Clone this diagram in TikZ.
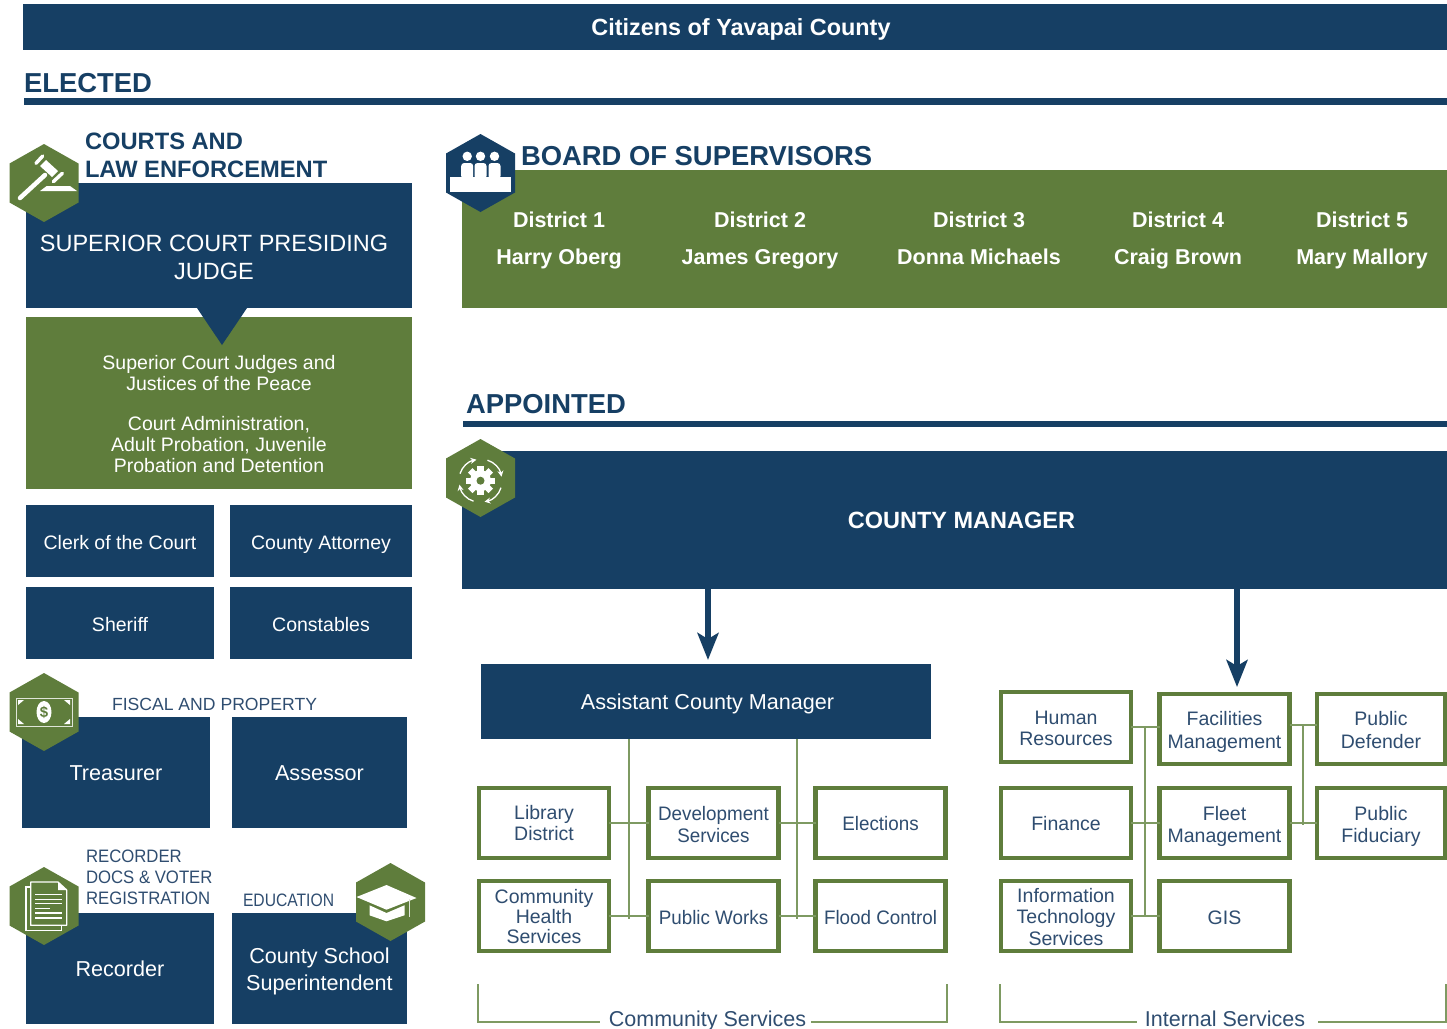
\documentclass[tikz,border=0pt]{standalone}
\usepackage{fontspec}
\setmainfont{Liberation Sans}
\newfontface\narrowa[FakeStretch=0.965]{Liberation Sans}
\newfontface\narrowb[FakeStretch=0.93]{Liberation Sans}
\newfontface\narrowc[FakeStretch=0.87]{Liberation Sans}
\usetikzlibrary{arrows.meta}
\definecolor{navy}{HTML}{163F64}
\definecolor{leaf}{HTML}{5F7D3C}
\definecolor{twig}{HTML}{7E9A62}
\definecolor{slate}{HTML}{2F4D70}
\newcommand{\sized}[2]{\fontsize{#1}{#2}\selectfont}

\begin{document}
\begin{tikzpicture}[%
    x=1pt,y=-1pt,%
    every node/.style={inner sep=0pt,outer sep=0pt},%
    drop/.style={text height=#1pt,text depth=0pt},%
    navybox/.style={fill=navy,text=white,align=center},%
    leafbox/.style={fill=leaf,text=white,align=center},%
    unitbox/.style={draw=leaf,fill=white,line width=4.5pt,text=slate,align=center,%
      minimum width=130pt,minimum height=70pt,font=\sized{19.5}{20.5}},%
    conn/.style={draw=twig,line width=2.6pt},%
    rule/.style={draw=navy,line width=7pt},%
    flow/.style={draw=navy,line width=6pt,-{Stealth[width=21pt,length=27pt,inset=6pt]}},%
    heading/.style={text=navy,anchor=west,font=\bfseries\sized{27.4}{28}},%
    district/.style={text=white,align=center,drop=53,font=\bfseries\sized{21.5}{37}},%
    hexa/.pic={%
      \fill[pic actions] (0,-39) -- (34.5,-19.5) -- (34.5,19.5) -- (0,39)
      -- (-34.5,19.5) -- (-34.5,-19.5) -- cycle;%
    }%
  ]
  \useasboundingbox (0,0) rectangle (1447,1028);

  %
  % Positions
  %
  \pgfmathsetmacro{\xla}{120};%
  \pgfmathsetmacro{\xlb}{321};%
  \pgfmathsetmacro{\xca}{544};%
  \pgfmathsetmacro{\xcb}{713.5};%
  \pgfmathsetmacro{\xcc}{880.5};%
  \pgfmathsetmacro{\xia}{1066};%
  \pgfmathsetmacro{\xib}{1224.5};%
  \pgfmathsetmacro{\xic}{1381};%
  \pgfmathsetmacro{\yra}{823};%
  \pgfmathsetmacro{\yrb}{916};%

  %
  % Elected
  %
  \node[navybox,drop=17,minimum width=1424pt,minimum height=46pt,font=\bfseries\sized{23.4}{24}]
  (citizens) at (735,27) {\hspace*{12pt}Citizens of Yavapai County};
  \node[heading] (elected) at (24,83) {ELECTED};
  \coordinate (electedL) at (24,101);
  \coordinate (electedR) at (1447,101);
  \draw[rule] (electedL) -- (electedR);

  % Courts
  \node[heading,font=\bfseries\sized{23.7}{28},align=left] (courts) at (85,155)
  {COURTS AND\\LAW ENFORCEMENT};
  \node[navybox,drop=68,minimum width=386pt,minimum height=125pt,font=\sized{23.5}{28}]
  (judge) at (219,245.5) {\hspace*{-10pt}SUPERIOR COURT PRESIDING\\\hspace*{-10pt}JUDGE};
  \node[leafbox,drop=138,minimum width=386pt,minimum height=172pt,font=\sized{19.5}{21}]
  (judges) at (219,403) {Superior Court Judges and\\Justices of the Peace\\[19pt]
    Court Administration,\\Adult Probation, Juvenile\\Probation and Detention};
  \fill[navy] (197,308) -- (247,308) -- (222,345) -- cycle;
  \foreach \name/\x/\wide/\y/\txt in {%
    clerk/\xla/188/541/Clerk of the Court,%
    attorney/\xlb/182/541/County Attorney,%
    sheriff/\xla/188/623/Sheriff,%
    constables/\xlb/182/623/Constables}{%
    \node[navybox,drop=16,minimum width=\wide pt,minimum height=72pt,font=\sized{19.5}{21}]
    (\name) at (\x,\y) {\txt};
  }

  % Fiscal
  \node[text=slate,anchor=west,font=\sized{17.6}{20}] (fiscal) at (112,704) {FISCAL AND PROPERTY};
  \node[navybox,drop=15,minimum width=188pt,minimum height=111pt,font=\sized{21.6}{26}]
  (treasurer) at (116,772.5) {Treasurer};
  \node[navybox,drop=15,minimum width=175pt,minimum height=111pt,font=\sized{21.6}{26}]
  (assessor) at (319.5,772.5) {Assessor};

  % Recorder and education
  \node[text=slate,anchor=west,align=left,font=\narrowb\sized{18}{21}] (docs) at (86,877)
  {RECORDER\\DOCS \& VOTER\\REGISTRATION};
  \node[text=slate,anchor=west,font=\narrowc\sized{18}{20}] (education) at (243,900) {EDUCATION};
  \node[navybox,drop=16,minimum width=188pt,minimum height=111pt,font=\sized{21.6}{26}]
  (recorder) at (120,968.5) {Recorder};
  \node[navybox,drop=44,minimum width=175pt,minimum height=111pt,font=\sized{21.6}{27}]
  (school) at (319.5,968.5) {County School\\Superintendent};

  % Board
  \node[heading] (board) at (521,156) {BOARD OF SUPERVISORS};
  \node[leafbox,minimum width=985pt,minimum height=138pt] (supervisors) at (954.5,239) {};
  \foreach \name/\x/\num/\who in {%
    da/559/1/Harry Oberg,%
    db/760/2/James Gregory,%
    dc/979/3/Donna Michaels,%
    dd/1178/4/Craig Brown,%
    de/1362/5/Mary Mallory}{%
    \node[district] (\name) at (\x,238) {District \num\\\who};
  }

  %
  % Appointed
  %
  \node[heading] (appointed) at (466,404) {APPOINTED};
  \coordinate (appointedL) at (463,424);
  \coordinate (appointedR) at (1447,424);
  \draw[rule,line width=6pt] (appointedL) -- (appointedR);
  \node[navybox,drop=17,minimum width=985pt,minimum height=138pt,font=\bfseries\sized{23.5}{24}]
  (manager) at (954.5,520) {\hspace*{14pt}COUNTY MANAGER};
  \coordinate (arrowA) at (708,660);
  \coordinate (arrowB) at (1237,687);
  \draw[flow] (manager.south -| arrowA) -- (arrowA);
  \draw[flow] (manager.south -| arrowB) -- (arrowB);

  % Community Services
  \node[navybox,drop=16,minimum width=450pt,minimum height=75pt,font=\sized{21.6}{26}]
  (assistant) at (706,701.5) {\hspace*{3pt}Assistant County Manager};
  \coordinate (tapA) at (629,919);
  \coordinate (tapB) at (797,919);
  \draw[conn] (assistant.south -| tapA) -- (tapA);
  \draw[conn] (assistant.south -| tapB) -- (tapB);
  \node[unitbox,drop=34] (library) at (\xca,\yra) {Library\\District};
  \node[unitbox,drop=38,font=\narrowa\sized{19.5}{22}] (development) at (\xcb,\yra) {Development\\Services};
  \node[unitbox,drop=14,font=\narrowa\sized{19.5}{22}] (elections) at (\xcc,\yra) {Elections};
  \node[unitbox,drop=54,font=\sized{19.5}{20}] (health) at (\xca,\yrb) {Community\\Health\\Services};
  \node[unitbox,drop=16,font=\narrowa\sized{19.5}{22}] (works) at (\xcb,\yrb) {Public Works};
  \node[unitbox,drop=16,font=\narrowa\sized{19.5}{22}] (flood) at (\xcc,\yrb) {Flood Control};
  \draw[conn] (library.east) -- (development.west);
  \draw[conn] (development.east) -- (elections.west);
  \draw[conn] (health.east) -- (works.west);
  \draw[conn] (works.east) -- (flood.west);

  % Internal Services
  \coordinate (tapC) at (1145,727);
  \coordinate (tapD) at (1145,916);
  \coordinate (tapE) at (1303,725);
  \coordinate (tapF) at (1303,825);
  \draw[conn] (tapC) -- (tapD);
  \draw[conn] (tapE) -- (tapF);
  \node[unitbox,drop=36] (human) at (\xia,727) {Human\\Resources};
  \node[unitbox,drop=38,font=\sized{19.5}{22.5}] (facilities) at (\xib,729) {Facilities\\Management};
  \node[unitbox,drop=38,font=\sized{19.5}{22.5},minimum width=128pt] (defender) at (\xic,729) {Public\\Defender};
  \node[unitbox,drop=14] (finance) at (\xia,\yra) {Finance};
  \node[unitbox,drop=38,font=\sized{19.5}{22}] (fleet) at (\xib,\yra) {Fleet\\Management};
  \node[unitbox,drop=38,font=\sized{19.5}{22},minimum width=128pt] (fiduciary) at (\xic,\yra) {Public\\Fiduciary};
  \node[unitbox,drop=58,font=\sized{19.5}{21.5}] (technology) at (\xia,\yrb) {Information\\Technology\\Services};
  \node[unitbox,drop=16] (gis) at (\xib,\yrb) {GIS};
  \draw[conn] (human.east) -- (facilities.west |- human.east);
  \draw[conn] (finance.east) -- (fleet.west);
  \draw[conn] (technology.east) -- (gis.west);
  \draw[conn] (facilities.east |- tapE) -- (defender.west |- tapE);
  \draw[conn] (fleet.east) -- (fiduciary.west);

  % Brackets
  \node[text=slate,drop=16,font=\sized{21.5}{24}] (community) at (707.5,1018) {Community Services};
  \node[text=slate,drop=16,font=\sized{21.5}{24}] (internal) at (1225,1018) {Internal Services};
  \coordinate (brA) at (478,984);
  \coordinate (brB) at (478,1022);
  \coordinate (brC) at (947,984);
  \coordinate (brD) at (947,1022);
  \coordinate (brE) at (1000,984);
  \coordinate (brF) at (1000,1022);
  \coordinate (brG) at (1446,984);
  \coordinate (brH) at (1446,1022);
  \draw[conn] (brA) -- (brB) -- ([xshift=-9pt]brB -| community.west);
  \draw[conn] (brC) -- (brD) -- ([xshift=5pt]brD -| community.east);
  \draw[conn] (brE) -- (brF) -- ([xshift=-8pt]brF -| internal.west);
  \draw[conn] (brG) -- (brH) -- ([xshift=13pt]brH -| internal.east);

  %
  % Icons
  %
  % Gavel
  \begin{scope}[shift={(44,183)}]
    \pic[fill=leaf] {hexa};
    \fill[white] (-4,-17) -- (2,-23) -- (14,-12) -- (8,-6) -- cycle;
    \draw[white,line width=3.5pt,line cap=round] (-8,-19.7) -- (-1.3,-27);
    \draw[white,line width=3.5pt,line cap=round] (9.3,-1.3) -- (18.3,-9.7);
    \draw[white,line width=4.5pt,line cap=round] (-24,15) -- (1,-8);
    \fill[white] (-4,8) -- (2.7,3) -- (26,3) -- (33,8) -- cycle;
  \end{scope}

  % Supervisors
  \begin{scope}[shift={(480.5,173)}]
    \pic[fill=navy] {hexa};
    \foreach \x in {-13.3,0,14}{%
      \fill[white] (\x,-16.7) circle[radius=4.7pt];
      \fill[white,rounded corners=3pt] (\x-6,-10) rectangle (\x+6,6);
    }
    \fill[white] (-31,4.3) rectangle (30,19.3);
  \end{scope}

  % Gear
  \begin{scope}[shift={(480.5,478)}]
    \pic[fill=leaf] {hexa};
    \begin{scope}[shift={(0,2.7)}]
      \foreach \a in {0,45,...,315}{%
        \fill[white,rotate=\a] (-3.2,-14.5) rectangle (3.2,0);
      }
      \fill[white] (0,0) circle[radius=10.5pt];
      \fill[leaf] (0,0) circle[radius=4pt];
      \foreach \a in {0,90,180,270}{%
        \draw[white,line width=1.3pt,rotate=\a,-{Stealth[width=6pt,length=6pt]}]
        (-20.5,-7) .. controls (-18.5,-14) and (-12,-19.5) .. (-4,-21);
      }
    \end{scope}
  \end{scope}

  % Money
  \begin{scope}[shift={(44,712)}]
    \pic[fill=leaf] {hexa};
    \draw[white!80!leaf,line width=1pt] (-28,-14) rectangle (28,14);
    \foreach \sx/\sy in {-1/-1,1/-1,-1/1,1/1}{%
      \fill[white] (\sx*26,\sy*12) -- (\sx*20,\sy*12) -- (\sx*26,\sy*7) -- cycle;
    }
    \fill[white] (0,0) ellipse[x radius=7.5pt,y radius=11pt];
    \node[text=leaf,font=\bfseries\sized{15}{15}] (dollar) at (0,0) {\$};
  \end{scope}

  % Documents
  \begin{scope}[shift={(44,906)}]
    \pic[fill=leaf] {hexa};
    \draw[white,line width=1.3pt,fill=leaf] (-18,-19) rectangle (17.7,24.3);
    \draw[white,line width=1.3pt,fill=leaf,line join=round] (-13.3,-24) -- (14,-24)
    -- (22.7,-16) -- (22.7,19.3) -- (-13.3,19.3) -- cycle;
    \fill[white] (14,-24) -- (14,-16) -- (22.7,-16) -- cycle;
    \foreach \y in {-11.3,-6.7,-2.3,7,12}{%
      \draw[white,line width=1.4pt] (-9,\y) -- (17.7,\y);
    }
    \draw[white,line width=1.4pt] (-9,2.7) -- (6,2.7);
  \end{scope}

  % Education
  \begin{scope}[shift={(390.5,902)}]
    \pic[fill=leaf] {hexa};
    \fill[white] (-34,-5) -- (-4,-17) -- (26,-4) -- (-4,7.7) -- cycle;
    \fill[white] (-21,3.3) -- (-4,11) -- (14,3.3) -- (14,13.3) -- (-4,19.3) -- (-21,13.3) -- cycle;
    \draw[white!80!leaf,line width=1.5pt] (19,-3) -- (19,15);
  \end{scope}
\end{tikzpicture}
\end{document}
